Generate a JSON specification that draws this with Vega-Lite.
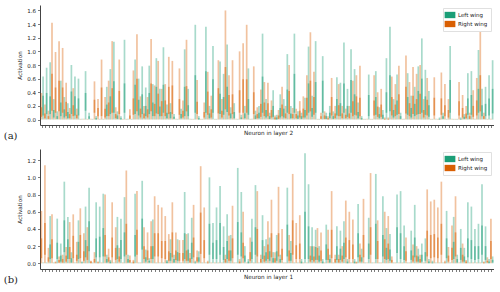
{"$schema":"https://vega.github.io/schema/vega-lite/v6.json","padding":{"left":3,"top":5,"right":0,"bottom":0},"background":"white","spacing":8,
"config":{"font":"DejaVu Sans","view":{"stroke":null},"axis":{"grid":false,"labelOverlap":false,"domainColor":"#444","tickColor":"#444","labelColor":"#222","titleColor":"#222","labelFontSize":5.5,"titleFontSize":5.7,"titleFontWeight":"normal","tickSize":2.5,"domainWidth":1,"tickWidth":0.7,"labelPadding":2}},
"datasets":{"a":[
{"n":0,"wing":"Left wing","low":0.06,"mid":0.35,"high":0.63},{"n":0,"wing":"Right wing","low":0.04,"mid":0.18,"high":0.39},
{"n":1,"wing":"Left wing","low":0.08,"mid":0.39,"high":0.76},{"n":1,"wing":"Right wing","low":0.02,"mid":0.09,"high":0.22},
{"n":2,"wing":"Left wing","low":0.08,"mid":0.34,"high":0.84},{"n":2,"wing":"Right wing","low":0.01,"mid":0.05,"high":0.13},
{"n":3,"wing":"Left wing","low":0.03,"mid":0.14,"high":0.3},{"n":3,"wing":"Right wing","low":0.13,"mid":0.67,"high":1.42},
{"n":4,"wing":"Left wing","low":0.01,"mid":0.05,"high":0.12},{"n":4,"wing":"Right wing","low":0.1,"mid":0.47,"high":0.99},
{"n":5,"wing":"Left wing","low":0.05,"mid":0.25,"high":0.57},{"n":5,"wing":"Right wing","low":0.12,"mid":0.57,"high":1.15},
{"n":6,"wing":"Left wing","low":0.03,"mid":0.15,"high":0.33},{"n":6,"wing":"Right wing","low":0.1,"mid":0.47,"high":1.05},
{"n":7,"wing":"Left wing","low":0.02,"mid":0.11,"high":0.24},{"n":7,"wing":"Right wing","low":0.05,"mid":0.26,"high":0.54},
{"n":8,"wing":"Left wing","low":0.08,"mid":0.41,"high":0.8},{"n":8,"wing":"Right wing","low":0.02,"mid":0.08,"high":0.17},
{"n":9,"wing":"Left wing","low":0.06,"mid":0.34,"high":0.63},{"n":9,"wing":"Right wing","low":0.05,"mid":0.21,"high":0.46},
{"n":10,"wing":"Left wing","low":0.06,"mid":0.31,"high":0.6},{"n":10,"wing":"Right wing","low":0.02,"mid":0.07,"high":0.16},
{"n":11,"wing":"Left wing","low":0,"mid":0,"high":0.01},{"n":11,"wing":"Right wing","low":0,"mid":0,"high":0.01},
{"n":12,"wing":"Left wing","low":0.13,"mid":0.39,"high":0.71},{"n":12,"wing":"Right wing","low":0,"mid":0,"high":0.01},
{"n":13,"wing":"Left wing","low":0.01,"mid":0.05,"high":0.1},{"n":13,"wing":"Right wing","low":0,"mid":0,"high":0.01},
{"n":14,"wing":"Left wing","low":0,"mid":0,"high":0.01},{"n":14,"wing":"Right wing","low":0,"mid":0,"high":0.01},
{"n":15,"wing":"Left wing","low":0,"mid":0.02,"high":0.05},{"n":15,"wing":"Right wing","low":0.1,"mid":0.29,"high":0.56},
{"n":16,"wing":"Left wing","low":0,"mid":0,"high":0.01},{"n":16,"wing":"Right wing","low":0.05,"mid":0.17,"high":0.3},
{"n":17,"wing":"Left wing","low":0,"mid":0,"high":0.01},{"n":17,"wing":"Right wing","low":0.05,"mid":0.47,"high":0.88},
{"n":18,"wing":"Left wing","low":0.05,"mid":0.22,"high":0.48},{"n":18,"wing":"Right wing","low":0.03,"mid":0.16,"high":0.33},
{"n":19,"wing":"Left wing","low":0.08,"mid":0.34,"high":0.74},{"n":19,"wing":"Right wing","low":0.05,"mid":0.25,"high":0.57},
{"n":20,"wing":"Left wing","low":0.1,"mid":0.56,"high":1.14},{"n":20,"wing":"Right wing","low":0.1,"mid":0.46,"high":1.15},
{"n":21,"wing":"Left wing","low":0.01,"mid":0.06,"high":0.12},{"n":21,"wing":"Right wing","low":0.02,"mid":0.08,"high":0.18},
{"n":22,"wing":"Left wing","low":0,"mid":0.02,"high":0.05},{"n":22,"wing":"Right wing","low":0.08,"mid":0.42,"high":0.88},
{"n":23,"wing":"Left wing","low":0.1,"mid":0.53,"high":1.17},{"n":23,"wing":"Right wing","low":0,"mid":0,"high":0.01},
{"n":24,"wing":"Left wing","low":0,"mid":0,"high":0.01},{"n":24,"wing":"Right wing","low":0,"mid":0,"high":0.01},
{"n":25,"wing":"Left wing","low":0,"mid":0,"high":0.01},{"n":25,"wing":"Right wing","low":0.01,"mid":0.06,"high":0.15},
{"n":26,"wing":"Left wing","low":0.08,"mid":0.51,"high":0.88},{"n":26,"wing":"Right wing","low":0.07,"mid":0.31,"high":0.72},
{"n":27,"wing":"Left wing","low":0.06,"mid":0.29,"high":0.6},{"n":27,"wing":"Right wing","low":0.12,"mid":0.6,"high":1.25},
{"n":28,"wing":"Left wing","low":0.08,"mid":0.37,"high":0.78},{"n":28,"wing":"Right wing","low":0.03,"mid":0.16,"high":0.34},
{"n":29,"wing":"Left wing","low":0.05,"mid":0.2,"high":0.47},{"n":29,"wing":"Right wing","low":0.02,"mid":0.09,"high":0.2},
{"n":30,"wing":"Left wing","low":0.08,"mid":0.39,"high":0.79},{"n":30,"wing":"Right wing","low":0.03,"mid":0.15,"high":0.33},
{"n":31,"wing":"Left wing","low":0.05,"mid":0.25,"high":0.52},{"n":31,"wing":"Right wing","low":0.12,"mid":0.53,"high":1.18},
{"n":32,"wing":"Left wing","low":0.09,"mid":0.48,"high":0.9},{"n":32,"wing":"Right wing","low":0.05,"mid":0.23,"high":0.5},
{"n":33,"wing":"Left wing","low":0.05,"mid":0.19,"high":0.45},{"n":33,"wing":"Right wing","low":0.08,"mid":0.38,"high":0.86},
{"n":34,"wing":"Left wing","low":0.1,"mid":0.51,"high":1.06},{"n":34,"wing":"Right wing","low":0.05,"mid":0.27,"high":0.45},
{"n":35,"wing":"Left wing","low":0.02,"mid":0.1,"high":0.22},{"n":35,"wing":"Right wing","low":0.05,"mid":0.28,"high":0.52},
{"n":36,"wing":"Left wing","low":0.02,"mid":0.11,"high":0.24},{"n":36,"wing":"Right wing","low":0.08,"mid":0.48,"high":0.92},
{"n":37,"wing":"Left wing","low":0.01,"mid":0.04,"high":0.08},{"n":37,"wing":"Right wing","low":0.08,"mid":0.5,"high":0.86},
{"n":38,"wing":"Left wing","low":0,"mid":0,"high":0.01},{"n":38,"wing":"Right wing","low":0,"mid":0,"high":0.01},
{"n":39,"wing":"Left wing","low":0.02,"mid":0.08,"high":0.16},{"n":39,"wing":"Right wing","low":0.07,"mid":0.3,"high":0.75},
{"n":40,"wing":"Left wing","low":0.05,"mid":0.48,"high":1.03},{"n":40,"wing":"Right wing","low":0.03,"mid":0.13,"high":0.28},
{"n":41,"wing":"Left wing","low":0.05,"mid":0.21,"high":0.45},{"n":41,"wing":"Right wing","low":0.12,"mid":0.49,"high":1.17},
{"n":42,"wing":"Left wing","low":0,"mid":0,"high":0.01},{"n":42,"wing":"Right wing","low":0,"mid":0,"high":0.01},
{"n":43,"wing":"Left wing","low":0.1,"mid":0.65,"high":1.39},{"n":43,"wing":"Right wing","low":0,"mid":0,"high":0.01},
{"n":44,"wing":"Left wing","low":0,"mid":0.02,"high":0.05},{"n":44,"wing":"Right wing","low":0.08,"mid":0.26,"high":0.58},
{"n":45,"wing":"Left wing","low":0,"mid":0,"high":0.01},{"n":45,"wing":"Right wing","low":0,"mid":0,"high":0.01},
{"n":46,"wing":"Left wing","low":0.1,"mid":0.71,"high":1.36},{"n":46,"wing":"Right wing","low":0.03,"mid":0.11,"high":0.25},
{"n":47,"wing":"Left wing","low":0.02,"mid":0.09,"high":0.2},{"n":47,"wing":"Right wing","low":0.07,"mid":0.41,"high":0.7},
{"n":48,"wing":"Left wing","low":0.1,"mid":0.59,"high":1.08},{"n":48,"wing":"Right wing","low":0.03,"mid":0.15,"high":0.35},
{"n":49,"wing":"Left wing","low":0,"mid":0,"high":0.01},{"n":49,"wing":"Right wing","low":0,"mid":0,"high":0.01},
{"n":50,"wing":"Left wing","low":0.08,"mid":0.38,"high":0.85},{"n":50,"wing":"Right wing","low":0.09,"mid":0.46,"high":0.87},
{"n":51,"wing":"Left wing","low":0.07,"mid":0.33,"high":0.67},{"n":51,"wing":"Right wing","low":0.03,"mid":0.13,"high":0.3},
{"n":52,"wing":"Left wing","low":0.11,"mid":0.48,"high":1.1},{"n":52,"wing":"Right wing","low":0.15,"mid":0.77,"high":1.6},
{"n":53,"wing":"Left wing","low":0.02,"mid":0.09,"high":0.18},{"n":53,"wing":"Right wing","low":0.06,"mid":0.36,"high":0.65},
{"n":54,"wing":"Left wing","low":0.02,"mid":0.11,"high":0.24},{"n":54,"wing":"Right wing","low":0.08,"mid":0.37,"high":0.87},
{"n":55,"wing":"Left wing","low":0,"mid":0,"high":0.01},{"n":55,"wing":"Right wing","low":0,"mid":0,"high":0.01},
{"n":56,"wing":"Left wing","low":0.01,"mid":0.03,"high":0.07},{"n":56,"wing":"Right wing","low":0.1,"mid":0.43,"high":1},
{"n":57,"wing":"Left wing","low":0.02,"mid":0.09,"high":0.2},{"n":57,"wing":"Right wing","low":0.1,"mid":0.59,"high":1.12},
{"n":58,"wing":"Left wing","low":0.07,"mid":0.3,"high":0.75},{"n":58,"wing":"Right wing","low":0.1,"mid":0.59,"high":1.39},
{"n":59,"wing":"Left wing","low":0,"mid":0,"high":0.01},{"n":59,"wing":"Right wing","low":0,"mid":0,"high":0.01},
{"n":60,"wing":"Left wing","low":0.01,"mid":0.06,"high":0.13},{"n":60,"wing":"Right wing","low":0.08,"mid":0.4,"high":0.78},
{"n":61,"wing":"Left wing","low":0.02,"mid":0.1,"high":0.2},{"n":61,"wing":"Right wing","low":0.02,"mid":0.08,"high":0.18},
{"n":62,"wing":"Left wing","low":0.1,"mid":0.63,"high":1.26},{"n":62,"wing":"Right wing","low":0.04,"mid":0.23,"high":0.44},
{"n":63,"wing":"Left wing","low":0.03,"mid":0.14,"high":0.3},{"n":63,"wing":"Right wing","low":0.05,"mid":0.25,"high":0.55},
{"n":64,"wing":"Left wing","low":0.01,"mid":0.05,"high":0.1},{"n":64,"wing":"Right wing","low":0.05,"mid":0.24,"high":0.54},
{"n":65,"wing":"Left wing","low":0.04,"mid":0.2,"high":0.43},{"n":65,"wing":"Right wing","low":0.03,"mid":0.14,"high":0.28},
{"n":66,"wing":"Left wing","low":0,"mid":0.03,"high":0.07},{"n":66,"wing":"Right wing","low":0,"mid":0.03,"high":0.06},
{"n":67,"wing":"Left wing","low":0.03,"mid":0.17,"high":0.37},{"n":67,"wing":"Right wing","low":0.01,"mid":0.06,"high":0.14},
{"n":68,"wing":"Left wing","low":0.03,"mid":0.16,"high":0.3},{"n":68,"wing":"Right wing","low":0.05,"mid":0.22,"high":0.48},
{"n":69,"wing":"Left wing","low":0.1,"mid":0.44,"high":0.96},{"n":69,"wing":"Right wing","low":0.02,"mid":0.09,"high":0.2},
{"n":70,"wing":"Left wing","low":0.02,"mid":0.09,"high":0.2},{"n":70,"wing":"Right wing","low":0.08,"mid":0.42,"high":0.8},
{"n":71,"wing":"Left wing","low":0.1,"mid":0.67,"high":1.26},{"n":71,"wing":"Right wing","low":0.02,"mid":0.08,"high":0.17},
{"n":72,"wing":"Left wing","low":0.01,"mid":0.06,"high":0.12},{"n":72,"wing":"Right wing","low":0.02,"mid":0.08,"high":0.16},
{"n":73,"wing":"Left wing","low":0.01,"mid":0.05,"high":0.1},{"n":73,"wing":"Right wing","low":0.03,"mid":0.13,"high":0.27},
{"n":74,"wing":"Left wing","low":0.03,"mid":0.14,"high":0.32},{"n":74,"wing":"Right wing","low":0.03,"mid":0.16,"high":0.34},
{"n":75,"wing":"Left wing","low":0.1,"mid":0.53,"high":1.07},{"n":75,"wing":"Right wing","low":0.06,"mid":0.32,"high":0.65},
{"n":76,"wing":"Left wing","low":0.04,"mid":0.17,"high":0.35},{"n":76,"wing":"Right wing","low":0.12,"mid":0.57,"high":1.28},
{"n":77,"wing":"Left wing","low":0.1,"mid":0.55,"high":1.15},{"n":77,"wing":"Right wing","low":0.07,"mid":0.33,"high":0.7},
{"n":78,"wing":"Left wing","low":0,"mid":0,"high":0.01},{"n":78,"wing":"Right wing","low":0,"mid":0,"high":0.01},
{"n":79,"wing":"Left wing","low":0.1,"mid":0.57,"high":0.93},{"n":79,"wing":"Right wing","low":0.01,"mid":0.05,"high":0.1},
{"n":80,"wing":"Left wing","low":0.01,"mid":0.05,"high":0.1},{"n":80,"wing":"Right wing","low":0.01,"mid":0.06,"high":0.12},
{"n":81,"wing":"Left wing","low":0.02,"mid":0.1,"high":0.2},{"n":81,"wing":"Right wing","low":0,"mid":0.02,"high":0.05},
{"n":82,"wing":"Left wing","low":0.01,"mid":0.05,"high":0.12},{"n":82,"wing":"Right wing","low":0.06,"mid":0.33,"high":0.61},
{"n":83,"wing":"Left wing","low":0.06,"mid":0.3,"high":0.62},{"n":83,"wing":"Right wing","low":0.02,"mid":0.09,"high":0.2},
{"n":84,"wing":"Left wing","low":0.05,"mid":0.24,"high":0.54},{"n":84,"wing":"Right wing","low":0.05,"mid":0.21,"high":0.52},
{"n":85,"wing":"Left wing","low":0.1,"mid":0.53,"high":1.13},{"n":85,"wing":"Right wing","low":0.02,"mid":0.09,"high":0.2},
{"n":86,"wing":"Left wing","low":0.04,"mid":0.2,"high":0.45},{"n":86,"wing":"Right wing","low":0.02,"mid":0.07,"high":0.16},
{"n":87,"wing":"Left wing","low":0.1,"mid":0.58,"high":1.03},{"n":87,"wing":"Right wing","low":0.02,"mid":0.09,"high":0.2},
{"n":88,"wing":"Left wing","low":0.07,"mid":0.37,"high":0.74},{"n":88,"wing":"Right wing","low":0.05,"mid":0.27,"high":0.57},
{"n":89,"wing":"Left wing","low":0.02,"mid":0.11,"high":0.25},{"n":89,"wing":"Right wing","low":0.06,"mid":0.34,"high":0.65},
{"n":90,"wing":"Left wing","low":0,"mid":0.02,"high":0.05},{"n":90,"wing":"Right wing","low":0.05,"mid":0.32,"high":0.79},
{"n":91,"wing":"Left wing","low":0,"mid":0,"high":0.01},{"n":91,"wing":"Right wing","low":0,"mid":0,"high":0.01},
{"n":92,"wing":"Left wing","low":0.05,"mid":0.36,"high":0.66},{"n":92,"wing":"Right wing","low":0,"mid":0,"high":0.01},
{"n":93,"wing":"Left wing","low":0,"mid":0,"high":0.01},{"n":93,"wing":"Right wing","low":0,"mid":0,"high":0.01},
{"n":94,"wing":"Left wing","low":0.07,"mid":0.33,"high":0.71},{"n":94,"wing":"Right wing","low":0.06,"mid":0.28,"high":0.65},
{"n":95,"wing":"Left wing","low":0.02,"mid":0.08,"high":0.18},{"n":95,"wing":"Right wing","low":0.04,"mid":0.19,"high":0.4},
{"n":96,"wing":"Left wing","low":0.01,"mid":0.07,"high":0.14},{"n":96,"wing":"Right wing","low":0.04,"mid":0.22,"high":0.45},
{"n":97,"wing":"Left wing","low":0.1,"mid":0.4,"high":0.9},{"n":97,"wing":"Right wing","low":0,"mid":0.01,"high":0.03},
{"n":98,"wing":"Left wing","low":0.12,"mid":0.65,"high":1.36},{"n":98,"wing":"Right wing","low":0,"mid":0.01,"high":0.03},
{"n":99,"wing":"Left wing","low":0.03,"mid":0.14,"high":0.3},{"n":99,"wing":"Right wing","low":0.06,"mid":0.33,"high":0.63},
{"n":100,"wing":"Left wing","low":0.07,"mid":0.28,"high":0.66},{"n":100,"wing":"Right wing","low":0.05,"mid":0.22,"high":0.52},
{"n":101,"wing":"Left wing","low":0.01,"mid":0.05,"high":0.1},{"n":101,"wing":"Right wing","low":0.08,"mid":0.37,"high":0.79},
{"n":102,"wing":"Left wing","low":0,"mid":0,"high":0.01},{"n":102,"wing":"Right wing","low":0,"mid":0,"high":0.01},
{"n":103,"wing":"Left wing","low":0.07,"mid":0.33,"high":0.68},{"n":103,"wing":"Right wing","low":0.09,"mid":0.48,"high":0.94},
{"n":104,"wing":"Left wing","low":0.03,"mid":0.17,"high":0.35},{"n":104,"wing":"Right wing","low":0.05,"mid":0.24,"high":0.55},
{"n":105,"wing":"Left wing","low":0.05,"mid":0.23,"high":0.48},{"n":105,"wing":"Right wing","low":0.08,"mid":0.35,"high":0.77},
{"n":106,"wing":"Left wing","low":0.08,"mid":0.42,"high":0.78},{"n":106,"wing":"Right wing","low":0.07,"mid":0.3,"high":0.67},
{"n":107,"wing":"Left wing","low":0.1,"mid":0.6,"high":1.19},{"n":107,"wing":"Right wing","low":0.08,"mid":0.38,"high":0.8},
{"n":108,"wing":"Left wing","low":0.07,"mid":0.34,"high":0.73},{"n":108,"wing":"Right wing","low":0.03,"mid":0.14,"high":0.3},
{"n":109,"wing":"Left wing","low":0.04,"mid":0.21,"high":0.42},{"n":109,"wing":"Right wing","low":0.06,"mid":0.29,"high":0.61},
{"n":110,"wing":"Left wing","low":0,"mid":0,"high":0.01},{"n":110,"wing":"Right wing","low":0,"mid":0,"high":0.01},
{"n":111,"wing":"Left wing","low":0,"mid":0,"high":0.01},{"n":111,"wing":"Right wing","low":0.06,"mid":0.32,"high":0.62},
{"n":112,"wing":"Left wing","low":0,"mid":0.01,"high":0.03},{"n":112,"wing":"Right wing","low":0,"mid":0,"high":0.01},
{"n":113,"wing":"Left wing","low":0.01,"mid":0.05,"high":0.1},{"n":113,"wing":"Right wing","low":0.07,"mid":0.31,"high":0.69},
{"n":114,"wing":"Left wing","low":0,"mid":0,"high":0.01},{"n":114,"wing":"Right wing","low":0.05,"mid":0.21,"high":0.52},
{"n":115,"wing":"Left wing","low":0.1,"mid":0.58,"high":1.08},{"n":115,"wing":"Right wing","low":0.03,"mid":0.14,"high":0.3},
{"n":116,"wing":"Left wing","low":0,"mid":0,"high":0.01},{"n":116,"wing":"Right wing","low":0,"mid":0,"high":0.01},
{"n":117,"wing":"Left wing","low":0,"mid":0,"high":0.01},{"n":117,"wing":"Right wing","low":0,"mid":0,"high":0.01},
{"n":118,"wing":"Left wing","low":0,"mid":0.01,"high":0.03},{"n":118,"wing":"Right wing","low":0.06,"mid":0.27,"high":0.55},
{"n":119,"wing":"Left wing","low":0.01,"mid":0.04,"high":0.08},{"n":119,"wing":"Right wing","low":0.03,"mid":0.17,"high":0.36},
{"n":120,"wing":"Left wing","low":0.07,"mid":0.31,"high":0.68},{"n":120,"wing":"Right wing","low":0.02,"mid":0.09,"high":0.2},
{"n":121,"wing":"Left wing","low":0.07,"mid":0.36,"high":0.71},{"n":121,"wing":"Right wing","low":0.01,"mid":0.05,"high":0.1},
{"n":122,"wing":"Left wing","low":0,"mid":0,"high":0.01},{"n":122,"wing":"Right wing","low":0.04,"mid":0.2,"high":0.43},
{"n":123,"wing":"Left wing","low":0.1,"mid":0.45,"high":1.02},{"n":123,"wing":"Right wing","low":0.06,"mid":0.28,"high":0.61},
{"n":124,"wing":"Left wing","low":0.05,"mid":0.21,"high":0.45},{"n":124,"wing":"Right wing","low":0.12,"mid":0.65,"high":1.32},
{"n":125,"wing":"Left wing","low":0.05,"mid":0.23,"high":0.48},{"n":125,"wing":"Right wing","low":0.01,"mid":0.05,"high":0.1},
{"n":126,"wing":"Left wing","low":0.06,"mid":0.31,"high":0.65},{"n":126,"wing":"Right wing","low":0,"mid":0,"high":0.01},
{"n":127,"wing":"Left wing","low":0.09,"mid":0.45,"high":0.87},{"n":127,"wing":"Right wing","low":0,"mid":0,"high":0.01}
],"b":[
{"n":0,"wing":"Left wing","low":0,"mid":0,"high":0.01},{"n":0,"wing":"Right wing","low":0.06,"mid":0.29,"high":0.61},
{"n":1,"wing":"Left wing","low":0,"mid":0,"high":0.01},{"n":1,"wing":"Right wing","low":0.1,"mid":0.47,"high":1.14},
{"n":2,"wing":"Left wing","low":0.05,"mid":0.22,"high":0.55},{"n":2,"wing":"Right wing","low":0.02,"mid":0.07,"high":0.18},
{"n":3,"wing":"Left wing","low":0,"mid":0,"high":0.01},{"n":3,"wing":"Right wing","low":0.06,"mid":0.28,"high":0.57},
{"n":4,"wing":"Left wing","low":0.05,"mid":0.24,"high":0.52},{"n":4,"wing":"Right wing","low":0,"mid":0.01,"high":0.02},
{"n":5,"wing":"Left wing","low":0.02,"mid":0.09,"high":0.23},{"n":5,"wing":"Right wing","low":0.01,"mid":0.04,"high":0.08},
{"n":6,"wing":"Left wing","low":0.13,"mid":0.5,"high":0.95},{"n":6,"wing":"Right wing","low":0.01,"mid":0.05,"high":0.1},
{"n":7,"wing":"Left wing","low":0.05,"mid":0.28,"high":0.54},{"n":7,"wing":"Right wing","low":0.02,"mid":0.09,"high":0.19},
{"n":8,"wing":"Left wing","low":0.01,"mid":0.06,"high":0.13},{"n":8,"wing":"Right wing","low":0.05,"mid":0.19,"high":0.48},
{"n":9,"wing":"Left wing","low":0,"mid":0,"high":0.01},{"n":9,"wing":"Right wing","low":0.06,"mid":0.32,"high":0.57},
{"n":10,"wing":"Left wing","low":0.05,"mid":0.25,"high":0.5},{"n":10,"wing":"Right wing","low":0.03,"mid":0.1,"high":0.25},
{"n":11,"wing":"Left wing","low":0,"mid":0.01,"high":0.02},{"n":11,"wing":"Right wing","low":0.06,"mid":0.33,"high":0.64},
{"n":12,"wing":"Left wing","low":0.07,"mid":0.27,"high":0.66},{"n":12,"wing":"Right wing","low":0.03,"mid":0.14,"high":0.35},
{"n":13,"wing":"Left wing","low":0.14,"mid":0.49,"high":0.88},{"n":13,"wing":"Right wing","low":0.04,"mid":0.2,"high":0.42},
{"n":14,"wing":"Left wing","low":0,"mid":0,"high":0.01},{"n":14,"wing":"Right wing","low":0,"mid":0.02,"high":0.03},
{"n":15,"wing":"Left wing","low":0.07,"mid":0.29,"high":0.71},{"n":15,"wing":"Right wing","low":0.01,"mid":0.05,"high":0.13},
{"n":16,"wing":"Left wing","low":0.07,"mid":0.31,"high":0.66},{"n":16,"wing":"Right wing","low":0,"mid":0.01,"high":0.02},
{"n":17,"wing":"Left wing","low":0.08,"mid":0.41,"high":0.81},{"n":17,"wing":"Right wing","low":0,"mid":0,"high":0.01},
{"n":18,"wing":"Left wing","low":0.01,"mid":0.05,"high":0.1},{"n":18,"wing":"Right wing","low":0.08,"mid":0.33,"high":0.8},
{"n":19,"wing":"Left wing","low":0,"mid":0.02,"high":0.04},{"n":19,"wing":"Right wing","low":0.02,"mid":0.07,"high":0.17},
{"n":20,"wing":"Left wing","low":0,"mid":0,"high":0.01},{"n":20,"wing":"Right wing","low":0.07,"mid":0.3,"high":0.71},
{"n":21,"wing":"Left wing","low":0.05,"mid":0.21,"high":0.54},{"n":21,"wing":"Right wing","low":0.04,"mid":0.18,"high":0.42},
{"n":22,"wing":"Left wing","low":0.05,"mid":0.27,"high":0.52},{"n":22,"wing":"Right wing","low":0.02,"mid":0.08,"high":0.18},
{"n":23,"wing":"Left wing","low":0.08,"mid":0.36,"high":0.77},{"n":23,"wing":"Right wing","low":0,"mid":0,"high":0.01},
{"n":24,"wing":"Left wing","low":0.01,"mid":0.05,"high":0.1},{"n":24,"wing":"Right wing","low":0.1,"mid":0.46,"high":1.08},
{"n":25,"wing":"Left wing","low":0,"mid":0,"high":0.01},{"n":25,"wing":"Right wing","low":0.01,"mid":0.04,"high":0.09},
{"n":26,"wing":"Left wing","low":0.08,"mid":0.33,"high":0.81},{"n":26,"wing":"Right wing","low":0,"mid":0.02,"high":0.04},
{"n":27,"wing":"Left wing","low":0,"mid":0,"high":0.01},{"n":27,"wing":"Right wing","low":0.1,"mid":0.39,"high":0.84},
{"n":28,"wing":"Left wing","low":0.16,"mid":0.52,"high":0.96},{"n":28,"wing":"Right wing","low":0,"mid":0,"high":0.01},
{"n":29,"wing":"Left wing","low":0.02,"mid":0.07,"high":0.16},{"n":29,"wing":"Right wing","low":0.05,"mid":0.2,"high":0.42},
{"n":30,"wing":"Left wing","low":0.01,"mid":0.03,"high":0.06},{"n":30,"wing":"Right wing","low":0.04,"mid":0.15,"high":0.36},
{"n":31,"wing":"Left wing","low":0.05,"mid":0.2,"high":0.51},{"n":31,"wing":"Right wing","low":0.05,"mid":0.2,"high":0.49},
{"n":32,"wing":"Left wing","low":0,"mid":0,"high":0.01},{"n":32,"wing":"Right wing","low":0.08,"mid":0.35,"high":0.78},
{"n":33,"wing":"Left wing","low":0,"mid":0,"high":0.01},{"n":33,"wing":"Right wing","low":0.08,"mid":0.35,"high":0.68},
{"n":34,"wing":"Left wing","low":0,"mid":0,"high":0.01},{"n":34,"wing":"Right wing","low":0.06,"mid":0.26,"high":0.65},
{"n":35,"wing":"Left wing","low":0,"mid":0.02,"high":0.04},{"n":35,"wing":"Right wing","low":0.05,"mid":0.26,"high":0.55},
{"n":36,"wing":"Left wing","low":0.03,"mid":0.12,"high":0.28},{"n":36,"wing":"Right wing","low":0.03,"mid":0.14,"high":0.34},
{"n":37,"wing":"Left wing","low":0.01,"mid":0.05,"high":0.1},{"n":37,"wing":"Right wing","low":0.07,"mid":0.36,"high":0.71},
{"n":38,"wing":"Left wing","low":0.03,"mid":0.13,"high":0.28},{"n":38,"wing":"Right wing","low":0.04,"mid":0.15,"high":0.36},
{"n":39,"wing":"Left wing","low":0,"mid":0,"high":0.01},{"n":39,"wing":"Right wing","low":0.03,"mid":0.12,"high":0.27},
{"n":40,"wing":"Left wing","low":0.05,"mid":0.35,"high":0.83},{"n":40,"wing":"Right wing","low":0.03,"mid":0.12,"high":0.27},
{"n":41,"wing":"Left wing","low":0.03,"mid":0.16,"high":0.35},{"n":41,"wing":"Right wing","low":0.03,"mid":0.15,"high":0.34},
{"n":42,"wing":"Left wing","low":0.05,"mid":0.24,"high":0.53},{"n":42,"wing":"Right wing","low":0.01,"mid":0.06,"high":0.12},
{"n":43,"wing":"Left wing","low":0,"mid":0.01,"high":0.03},{"n":43,"wing":"Right wing","low":0.07,"mid":0.3,"high":0.68},
{"n":44,"wing":"Left wing","low":0.02,"mid":0.07,"high":0.14},{"n":44,"wing":"Right wing","low":0.02,"mid":0.07,"high":0.15},
{"n":45,"wing":"Left wing","low":0,"mid":0,"high":0.01},{"n":45,"wing":"Right wing","low":0.11,"mid":0.59,"high":1.13},
{"n":46,"wing":"Left wing","low":0,"mid":0,"high":0.01},{"n":46,"wing":"Right wing","low":0.06,"mid":0.27,"high":0.65},
{"n":47,"wing":"Left wing","low":0.1,"mid":0.46,"high":1},{"n":47,"wing":"Right wing","low":0,"mid":0.01,"high":0.03},
{"n":48,"wing":"Left wing","low":0.05,"mid":0.24,"high":0.47},{"n":48,"wing":"Right wing","low":0,"mid":0,"high":0.01},
{"n":49,"wing":"Left wing","low":0.05,"mid":0.27,"high":0.65},{"n":49,"wing":"Right wing","low":0,"mid":0,"high":0.01},
{"n":50,"wing":"Left wing","low":0.1,"mid":0.47,"high":0.9},{"n":50,"wing":"Right wing","low":0,"mid":0,"high":0.01},
{"n":51,"wing":"Left wing","low":0.04,"mid":0.19,"high":0.43},{"n":51,"wing":"Right wing","low":0,"mid":0,"high":0.01},
{"n":52,"wing":"Left wing","low":0.05,"mid":0.26,"high":0.57},{"n":52,"wing":"Right wing","low":0.01,"mid":0.05,"high":0.1},
{"n":53,"wing":"Left wing","low":0.03,"mid":0.15,"high":0.33},{"n":53,"wing":"Right wing","low":0.03,"mid":0.15,"high":0.32},
{"n":54,"wing":"Left wing","low":0,"mid":0,"high":0.01},{"n":54,"wing":"Right wing","low":0.06,"mid":0.29,"high":0.67},
{"n":55,"wing":"Left wing","low":0.1,"mid":0.48,"high":1.11},{"n":55,"wing":"Right wing","low":0,"mid":0,"high":0.01},
{"n":56,"wing":"Left wing","low":0.08,"mid":0.36,"high":0.83},{"n":56,"wing":"Right wing","low":0,"mid":0.02,"high":0.05},
{"n":57,"wing":"Left wing","low":0.02,"mid":0.09,"high":0.2},{"n":57,"wing":"Right wing","low":0.06,"mid":0.24,"high":0.6},
{"n":58,"wing":"Left wing","low":0,"mid":0.02,"high":0.05},{"n":58,"wing":"Right wing","low":0,"mid":0,"high":0.01},
{"n":59,"wing":"Left wing","low":0.05,"mid":0.25,"high":0.52},{"n":59,"wing":"Right wing","low":0.03,"mid":0.13,"high":0.3},
{"n":60,"wing":"Left wing","low":0.1,"mid":0.42,"high":0.91},{"n":60,"wing":"Right wing","low":0,"mid":0,"high":0.01},
{"n":61,"wing":"Left wing","low":0,"mid":0,"high":0.01},{"n":61,"wing":"Right wing","low":0.08,"mid":0.4,"high":0.84},
{"n":62,"wing":"Left wing","low":0.05,"mid":0.27,"high":0.56},{"n":62,"wing":"Right wing","low":0.01,"mid":0.05,"high":0.1},
{"n":63,"wing":"Left wing","low":0.03,"mid":0.13,"high":0.28},{"n":63,"wing":"Right wing","low":0.02,"mid":0.09,"high":0.2},
{"n":64,"wing":"Left wing","low":0.03,"mid":0.14,"high":0.3},{"n":64,"wing":"Right wing","low":0.05,"mid":0.22,"high":0.49},
{"n":65,"wing":"Left wing","low":0.01,"mid":0.06,"high":0.13},{"n":65,"wing":"Right wing","low":0.07,"mid":0.35,"high":0.74},
{"n":66,"wing":"Left wing","low":0.03,"mid":0.14,"high":0.33},{"n":66,"wing":"Right wing","low":0.01,"mid":0.06,"high":0.13},
{"n":67,"wing":"Left wing","low":0.01,"mid":0.05,"high":0.1},{"n":67,"wing":"Right wing","low":0.08,"mid":0.35,"high":0.89},
{"n":68,"wing":"Left wing","low":0,"mid":0,"high":0.01},{"n":68,"wing":"Right wing","low":0.04,"mid":0.17,"high":0.4},
{"n":69,"wing":"Left wing","low":0.08,"mid":0.45,"high":0.88},{"n":69,"wing":"Right wing","low":0,"mid":0,"high":0.01},
{"n":70,"wing":"Left wing","low":0.03,"mid":0.12,"high":0.26},{"n":70,"wing":"Right wing","low":0.03,"mid":0.15,"high":0.33},
{"n":71,"wing":"Left wing","low":0,"mid":0,"high":0.01},{"n":71,"wing":"Right wing","low":0.1,"mid":0.5,"high":1.04},
{"n":72,"wing":"Left wing","low":0,"mid":0,"high":0.01},{"n":72,"wing":"Right wing","low":0.05,"mid":0.21,"high":0.47},
{"n":73,"wing":"Left wing","low":0,"mid":0.02,"high":0.05},{"n":73,"wing":"Right wing","low":0.05,"mid":0.23,"high":0.56},
{"n":74,"wing":"Left wing","low":0.05,"mid":0.6,"high":1.28},{"n":74,"wing":"Right wing","low":0,"mid":0,"high":0.01},
{"n":75,"wing":"Left wing","low":0.05,"mid":0.43,"high":0.92},{"n":75,"wing":"Right wing","low":0,"mid":0,"high":0.01},
{"n":76,"wing":"Left wing","low":0.04,"mid":0.2,"high":0.42},{"n":76,"wing":"Right wing","low":0.02,"mid":0.09,"high":0.2},
{"n":77,"wing":"Left wing","low":0.04,"mid":0.19,"high":0.39},{"n":77,"wing":"Right wing","low":0.02,"mid":0.08,"high":0.2},
{"n":78,"wing":"Left wing","low":0.02,"mid":0.09,"high":0.2},{"n":78,"wing":"Right wing","low":0.04,"mid":0.18,"high":0.41},
{"n":79,"wing":"Left wing","low":0,"mid":0.02,"high":0.05},{"n":79,"wing":"Right wing","low":0.03,"mid":0.15,"high":0.36},
{"n":80,"wing":"Left wing","low":0.04,"mid":0.22,"high":0.45},{"n":80,"wing":"Right wing","low":0,"mid":0,"high":0.01},
{"n":81,"wing":"Left wing","low":0.01,"mid":0.05,"high":0.1},{"n":81,"wing":"Right wing","low":0.04,"mid":0.17,"high":0.39},
{"n":82,"wing":"Left wing","low":0,"mid":0,"high":0.01},{"n":82,"wing":"Right wing","low":0.06,"mid":0.39,"high":0.84},
{"n":83,"wing":"Left wing","low":0.04,"mid":0.2,"high":0.43},{"n":83,"wing":"Right wing","low":0.01,"mid":0.05,"high":0.1},
{"n":84,"wing":"Left wing","low":0.04,"mid":0.17,"high":0.38},{"n":84,"wing":"Right wing","low":0.01,"mid":0.05,"high":0.1},
{"n":85,"wing":"Left wing","low":0.05,"mid":0.24,"high":0.49},{"n":85,"wing":"Right wing","low":0.02,"mid":0.09,"high":0.2},
{"n":86,"wing":"Left wing","low":0,"mid":0.02,"high":0.05},{"n":86,"wing":"Right wing","low":0.07,"mid":0.3,"high":0.73},
{"n":87,"wing":"Left wing","low":0,"mid":0,"high":0.01},{"n":87,"wing":"Right wing","low":0.05,"mid":0.27,"high":0.6},
{"n":88,"wing":"Left wing","low":0,"mid":0.02,"high":0.05},{"n":88,"wing":"Right wing","low":0.05,"mid":0.22,"high":0.51},
{"n":89,"wing":"Left wing","low":0.07,"mid":0.35,"high":0.69},{"n":89,"wing":"Right wing","low":0,"mid":0.01,"high":0.02},
{"n":90,"wing":"Left wing","low":0.02,"mid":0.07,"high":0.17},{"n":90,"wing":"Right wing","low":0.02,"mid":0.1,"high":0.23},
{"n":91,"wing":"Left wing","low":0,"mid":0,"high":0.01},{"n":91,"wing":"Right wing","low":0.07,"mid":0.33,"high":0.75},
{"n":92,"wing":"Left wing","low":0.05,"mid":0.23,"high":0.53},{"n":92,"wing":"Right wing","low":0,"mid":0,"high":0.01},
{"n":93,"wing":"Left wing","low":0,"mid":0,"high":0.01},{"n":93,"wing":"Right wing","low":0.1,"mid":0.42,"high":1.05},
{"n":94,"wing":"Left wing","low":0.05,"mid":0.46,"high":1.04},{"n":94,"wing":"Right wing","low":0,"mid":0,"high":0.01},
{"n":95,"wing":"Left wing","low":0,"mid":0,"high":0.01},{"n":95,"wing":"Right wing","low":0.05,"mid":0.26,"high":0.5},
{"n":96,"wing":"Left wing","low":0.08,"mid":0.33,"high":0.78},{"n":96,"wing":"Right wing","low":0,"mid":0,"high":0.01},
{"n":97,"wing":"Left wing","low":0.04,"mid":0.18,"high":0.41},{"n":97,"wing":"Right wing","low":0.05,"mid":0.28,"high":0.6},
{"n":98,"wing":"Left wing","low":0.03,"mid":0.16,"high":0.34},{"n":98,"wing":"Right wing","low":0.05,"mid":0.23,"high":0.55},
{"n":99,"wing":"Left wing","low":0,"mid":0,"high":0.01},{"n":99,"wing":"Right wing","low":0.01,"mid":0.04,"high":0.08},
{"n":100,"wing":"Left wing","low":0.12,"mid":0.42,"high":0.8},{"n":100,"wing":"Right wing","low":0,"mid":0,"high":0.01},
{"n":101,"wing":"Left wing","low":0.05,"mid":0.35,"high":0.84},{"n":101,"wing":"Right wing","low":0,"mid":0,"high":0.01},
{"n":102,"wing":"Left wing","low":0.04,"mid":0.2,"high":0.44},{"n":102,"wing":"Right wing","low":0,"mid":0,"high":0.01},
{"n":103,"wing":"Left wing","low":0,"mid":0,"high":0.01},{"n":103,"wing":"Right wing","low":0.03,"mid":0.14,"high":0.3},
{"n":104,"wing":"Left wing","low":0.04,"mid":0.15,"high":0.38},{"n":104,"wing":"Right wing","low":0,"mid":0,"high":0.01},
{"n":105,"wing":"Left wing","low":0.07,"mid":0.3,"high":0.68},{"n":105,"wing":"Right wing","low":0.02,"mid":0.09,"high":0.22},
{"n":106,"wing":"Left wing","low":0.02,"mid":0.08,"high":0.17},{"n":106,"wing":"Right wing","low":0.02,"mid":0.09,"high":0.2},
{"n":107,"wing":"Left wing","low":0.02,"mid":0.1,"high":0.23},{"n":107,"wing":"Right wing","low":0.01,"mid":0.05,"high":0.1},
{"n":108,"wing":"Left wing","low":0.03,"mid":0.13,"high":0.29},{"n":108,"wing":"Right wing","low":0,"mid":0,"high":0.01},
{"n":109,"wing":"Left wing","low":0,"mid":0.02,"high":0.05},{"n":109,"wing":"Right wing","low":0.08,"mid":0.38,"high":0.86},
{"n":110,"wing":"Left wing","low":0,"mid":0.01,"high":0.03},{"n":110,"wing":"Right wing","low":0.06,"mid":0.33,"high":0.72},
{"n":111,"wing":"Left wing","low":0,"mid":0,"high":0.01},{"n":111,"wing":"Right wing","low":0.07,"mid":0.34,"high":0.74},
{"n":112,"wing":"Left wing","low":0,"mid":0,"high":0.01},{"n":112,"wing":"Right wing","low":0.06,"mid":0.3,"high":0.65},
{"n":113,"wing":"Left wing","low":0,"mid":0,"high":0.01},{"n":113,"wing":"Right wing","low":0.1,"mid":0.46,"high":0.95},
{"n":114,"wing":"Left wing","low":0.06,"mid":0.29,"high":0.61},{"n":114,"wing":"Right wing","low":0,"mid":0.01,"high":0.03},
{"n":115,"wing":"Left wing","low":0,"mid":0,"high":0.01},{"n":115,"wing":"Right wing","low":0.02,"mid":0.09,"high":0.19},
{"n":116,"wing":"Left wing","low":0.05,"mid":0.25,"high":0.54},{"n":116,"wing":"Right wing","low":0.04,"mid":0.18,"high":0.44},
{"n":117,"wing":"Left wing","low":0.01,"mid":0.05,"high":0.1},{"n":117,"wing":"Right wing","low":0.08,"mid":0.36,"high":0.78},
{"n":118,"wing":"Left wing","low":0.04,"mid":0.18,"high":0.4},{"n":118,"wing":"Right wing","low":0,"mid":0,"high":0.01},
{"n":119,"wing":"Left wing","low":0.02,"mid":0.08,"high":0.18},{"n":119,"wing":"Right wing","low":0.02,"mid":0.1,"high":0.23},
{"n":120,"wing":"Left wing","low":0.07,"mid":0.29,"high":0.71},{"n":120,"wing":"Right wing","low":0,"mid":0.02,"high":0.04},
{"n":121,"wing":"Left wing","low":0.05,"mid":0.27,"high":0.66},{"n":121,"wing":"Right wing","low":0,"mid":0,"high":0.01},
{"n":122,"wing":"Left wing","low":0.04,"mid":0.2,"high":0.4},{"n":122,"wing":"Right wing","low":0,"mid":0,"high":0.01},
{"n":123,"wing":"Left wing","low":0.05,"mid":0.2,"high":0.46},{"n":123,"wing":"Right wing","low":0,"mid":0,"high":0.01},
{"n":124,"wing":"Left wing","low":0.1,"mid":0.44,"high":0.92},{"n":124,"wing":"Right wing","low":0,"mid":0,"high":0.01},
{"n":125,"wing":"Left wing","low":0.04,"mid":0.2,"high":0.43},{"n":125,"wing":"Right wing","low":0,"mid":0.01,"high":0.02},
{"n":126,"wing":"Left wing","low":0,"mid":0.02,"high":0.05},{"n":126,"wing":"Right wing","low":0.01,"mid":0.03,"high":0.07},
{"n":127,"wing":"Left wing","low":0.01,"mid":0.04,"high":0.08},{"n":127,"wing":"Right wing","low":0.05,"mid":0.26,"high":0.52}
]},
"vconcat":[
{"width":454,"height":120,"title":{"text":"(a)","orient":"bottom","anchor":"start","font":"DejaVu Serif","fontSize":10,"fontWeight":"normal","color":"#222","dx":-13,"offset":-5},"data":{"name":"a"},
"encoding":{"x":{"field":"n","type":"ordinal","title":"Neuron in layer 2","scale":{"paddingInner":0.04,"paddingOuter":0.15},"axis":{"labels":false,"titlePadding":2,"titleX":228}},"xOffset":{"field":"wing","type":"nominal","scale":{"domain":["Right wing","Left wing"]}},"color":{"field":"wing","type":"nominal","title":null,"scale":{"domain":["Left wing","Right wing"],"range":["#1b9e77","#d95f02"]},"legend":{"orient":"top-right","offset":3,"padding":3,"fillColor":"white","strokeColor":"#e0e0e0","symbolType":"M-1.7,-1H1.7V1H-1.7Z","symbolSize":40,"symbolOpacity":1,"labelFontSize":5.5,"labelColor":"#222","rowPadding":1,"columnPadding":3}}},
"layer":[
{"mark":{"type":"bar","opacity":0.38},"encoding":{"y":{"field":"high","type":"quantitative","title":"Activation","scale":{"domain":[-0.08,1.68],"nice":false},"axis":{"values":[0,0.2,0.4,0.6,0.8,1,1.2,1.4,1.6],"format":".1f","titlePadding":4,"labelOverlap":false,"labelBound":false}},"y2":{"datum":0}}},
{"mark":{"type":"bar","opacity":0.5},"encoding":{"y":{"field":"mid","type":"quantitative","title":"Activation","axis":{"values":[0,0.2,0.4,0.6,0.8,1,1.2,1.4,1.6],"format":".1f","titlePadding":4,"labelOverlap":false,"labelBound":false}},"y2":{"field":"low"}}}
]},
{"width":454,"height":120,"title":{"text":"(b)","orient":"bottom","anchor":"start","font":"DejaVu Serif","fontSize":10,"fontWeight":"normal","color":"#222","dx":-13,"offset":-5},"data":{"name":"b"},
"encoding":{"x":{"field":"n","type":"ordinal","title":"Neuron in layer 1","scale":{"paddingInner":0.04,"paddingOuter":0.15},"axis":{"labels":false,"titlePadding":2,"titleX":228}},"xOffset":{"field":"wing","type":"nominal","scale":{"domain":["Right wing","Left wing"]}},"color":{"field":"wing","type":"nominal","title":null,"scale":{"domain":["Left wing","Right wing"],"range":["#1b9e77","#d95f02"]},"legend":{"orient":"top-right","offset":3,"padding":3,"fillColor":"white","strokeColor":"#e0e0e0","symbolType":"M-1.7,-1H1.7V1H-1.7Z","symbolSize":40,"symbolOpacity":1,"labelFontSize":5.5,"labelColor":"#222","rowPadding":1,"columnPadding":3}}},
"layer":[
{"mark":{"type":"bar","opacity":0.38},"encoding":{"y":{"field":"high","type":"quantitative","title":"Activation","scale":{"domain":[-0.066,1.33],"nice":false},"axis":{"values":[0,0.2,0.4,0.6,0.8,1,1.2],"format":".1f","titlePadding":4,"labelOverlap":false,"labelBound":false}},"y2":{"datum":0}}},
{"mark":{"type":"bar","opacity":0.5},"encoding":{"y":{"field":"mid","type":"quantitative","title":"Activation","axis":{"values":[0,0.2,0.4,0.6,0.8,1,1.2],"format":".1f","titlePadding":4,"labelOverlap":false,"labelBound":false}},"y2":{"field":"low"}}}
]}
],
"resolve":{"scale":{"color":"independent"},"legend":{"color":"independent"}}}
